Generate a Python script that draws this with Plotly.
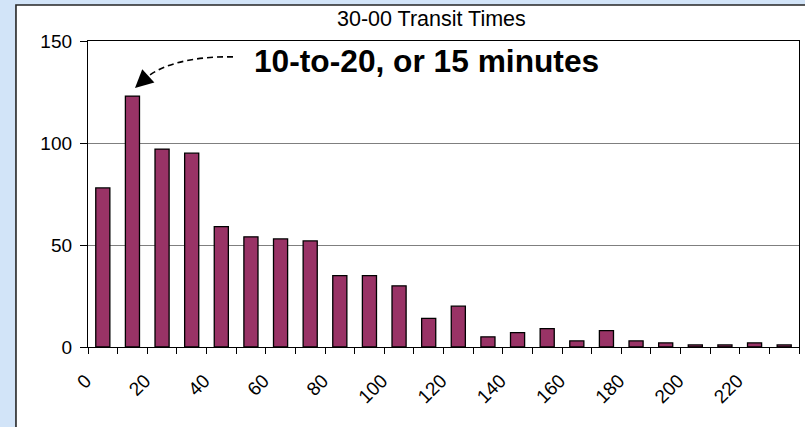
import plotly.graph_objects as go

# Transit-time histogram: lower bound of each 10-minute bin and its count
bin_start = [0, 10, 20, 30, 40, 50, 60, 70, 80, 90, 100, 110,
             120, 130, 140, 150, 160, 170, 180, 190, 200, 210, 220, 230]
counts = [78, 123, 97, 95, 59, 54, 53, 52, 35, 35, 30, 14,
          20, 5, 7, 9, 3, 8, 3, 2, 1, 1, 2, 1]

x_tick_vals = [0, 20, 40, 60, 80, 100, 120, 140, 160, 180, 200, 220]
x_tick_text = ["0", "20", "40", "60", "80", "100", "120", "140",
               "160", "180", "200", "220"]
y_tick_vals = [0, 50, 100, 150]

title_text = "30-00 Transit Times"
callout_text = "10-to-20, or 15 minutes"

FONT = "Arial, Liberation Sans, sans-serif"

fig = go.Figure(
    go.Bar(
        x=bin_start,
        y=counts,
        marker=dict(color="#993366", line=dict(color="#000000", width=1.3)),
    )
)

# white chart panel with a dark frame on the light-blue page
fig.add_shape(
    type="rect", xref="paper", yref="paper",
    x0=-0.1013, x1=1.2, y0=-0.5, y1=1.1176,
    fillcolor="white", line=dict(color="#262626", width=1.6),
    layer="below",
)

# curved dashed leader toward the 10-20 minute bar
fig.add_shape(
    type="path", xref="x", yref="y",
    path="M 43.95,142.2 C 32.8,142.6 21.0,139.7 14.6,131.9",
    line=dict(color="#000000", width=1.6, dash="6px,4px"),
)
fig.add_annotation(
    x=10.86, y=127.0, xref="x", yref="y", text="",
    showarrow=True, ax=11, ay=-10, axref="pixel", ayref="pixel",
    arrowhead=2, arrowsize=2.4, arrowwidth=1.5, arrowcolor="#000000",
)

fig.add_annotation(
    x=0.4838, y=1.0719, xref="paper", yref="paper",
    text=title_text, showarrow=False, xanchor="center", yanchor="middle",
    font=dict(family=FONT, size=21.5, color="#000000"),
)
fig.add_annotation(
    x=0.2307, y=0.9346, xref="paper", yref="paper",
    text="<b>" + callout_text + "</b>", showarrow=False,
    xanchor="left", yanchor="middle",
    font=dict(family=FONT, size=31.7, color="#000000"),
)

fig.update_layout(
    width=805, height=427,
    margin=dict(l=88, r=6, t=41, b=80, pad=0),
    paper_bgcolor="#d2e4f8",
    plot_bgcolor="white",
    bargap=0.524,
    showlegend=False,
    font=dict(family=FONT, size=19, color="#000000"),
)
fig.update_xaxes(
    range=[-5, 235],
    tickmode="array", tickvals=x_tick_vals, ticktext=x_tick_text,
    tickangle=-45, ticks="",
    ticklabelstandoff=14, ticklabelshift=-17,
    minor=dict(tick0=-5, dtick=10, ticks="outside", ticklen=6,
               tickcolor="#000000", tickwidth=1, showgrid=False),
    showline=True, linecolor="#000000", linewidth=1.3, mirror=True,
    showgrid=False, zeroline=False,
    tickfont=dict(family=FONT, size=19, color="#000000"),
)
fig.update_yaxes(
    range=[0, 150],
    tickmode="array", tickvals=y_tick_vals,
    ticks="outside", ticklen=7, tickcolor="#000000", tickwidth=1,
    showline=True, linecolor="#000000", linewidth=1.3, mirror=True,
    showgrid=True, gridcolor="#7f7f7f", gridwidth=1,
    zeroline=False, ticklabelstandoff=4,
    tickfont=dict(family=FONT, size=19, color="#000000"),
)

fig.write_html("out.html")
